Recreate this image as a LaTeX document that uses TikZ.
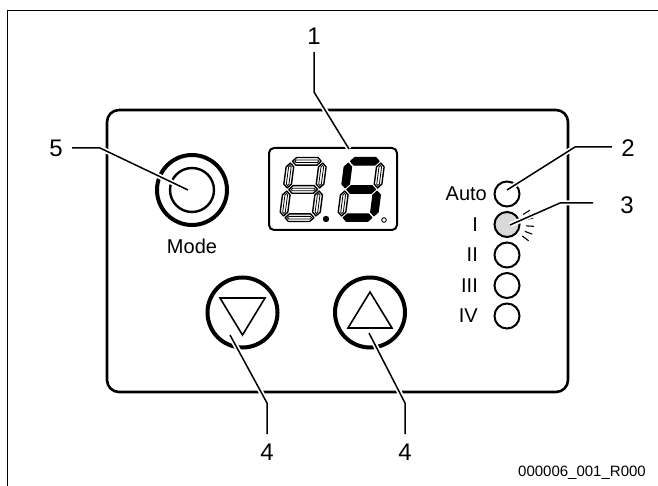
\documentclass[tikz,border=0pt]{standalone}
\usepackage{fontspec}
\setmainfont{Liberation Sans}
\newcommand\hsegpath[4]{(#1,#3) -- (#1+#4,#3+#4) -- (#2-#4,#3+#4) -- (#2,#3) -- (#2-#4,#3-#4) -- (#1+#4,#3-#4) -- cycle}
\newcommand\vsegpath[4]{(#1,#2) -- (#1+#4,#2+#4) -- (#1+#4,#3-#4) -- (#1,#3) -- (#1-#4,#3-#4) -- (#1-#4,#2+#4) -- cycle}
\newcommand\hon[3]{\filldraw[segon] \hsegpath{#1}{#2}{#3}{3.8};}
\newcommand\von[3]{\filldraw[segon] \vsegpath{#1}{#2}{#3}{3.8};}
\newcommand\hoff[3]{\filldraw[segoff] \hsegpath{#1}{#2}{#3}{3.8}; \draw[line width=0.8pt] \hsegpath{#1+2.4}{#2-2.4}{#3}{1.3};}
\newcommand\voff[3]{\filldraw[segoff] \vsegpath{#1}{#2}{#3}{3.8}; \draw[line width=0.8pt] \vsegpath{#1}{#2+2.4}{#3-2.4}{1.3};}
\begin{document}
\begin{tikzpicture}[x=1pt,y=-1pt,
  lbl/.style={font=\fontsize{24}{28}\selectfont, inner sep=0pt},
  small/.style={font=\fontsize{20}{24}\selectfont, inner sep=0pt},
  leader/.style={line width=1.5pt, preaction={draw=white, line width=5pt}},
  bigbtn/.style={circle, draw, line width=4pt, minimum size=70pt, inner sep=0pt},
  led/.style={circle, draw, line width=2pt, minimum size=25pt, inner sep=0pt},
  segon/.style={fill=black, draw=black, line width=1pt, line join=round},
  segoff/.style={fill=white, draw=black, line width=1.4pt, line join=round},
  ray/.style={line width=1.1pt}
]
\useasboundingbox (0,0) rectangle (658,486);
% outer frame
\draw[line width=1.5pt] (658,10.5) -- (7.5,10.5) -- (7.5,486);
% panel
\draw[line width=2.6pt, rounded corners=12pt] (107,110) rectangle (568,392);
% display
\node[draw, line width=2pt, rounded corners=5pt, minimum width=128pt, minimum height=82pt, inner sep=0pt] (disp) at (333,189) {};
% digit 1 (all unlit)
\begin{scope}[shift={(279,221.5)}, y=1pt, xslant=0.13]
  \hoff{5.6}{34.4}{3.8}
  \hoff{5.6}{34.4}{32}
  \hoff{5.6}{34.4}{60.2}
  \voff{3.8}{5.6}{30.4}
  \voff{3.8}{33.6}{58.4}
  \voff{36.2}{5.6}{30.4}
  \voff{36.2}{33.6}{58.4}
\end{scope}
% digit 2 (shows 5)
\begin{scope}[shift={(337,221.5)}, y=1pt, xslant=0.13]
  \hon{5.6}{34.4}{3.8}
  \hon{5.6}{34.4}{32}
  \hon{5.6}{34.4}{60.2}
  \voff{3.8}{5.6}{30.4}
  \von{3.8}{33.6}{58.4}
  \von{36.2}{5.6}{30.4}
  \voff{36.2}{33.6}{58.4}
\end{scope}
\fill (326,219) circle[radius=3.2pt];
\draw[line width=0.9pt] (384,220) circle[radius=2.3pt];
% mode button
\node[bigbtn] (mode) at (192,190) {};
\node[circle, draw, line width=2.4pt, minimum size=44pt, inner sep=0pt] (modein) at (192,190) {};
\node[small] (modelbl) at (192,246) {Mode};
% arrow buttons
\node[bigbtn] (down) at (242.5,312.5) {};
\node[bigbtn] (up) at (370,312.5) {};
\draw[line width=1.6pt] (220,298) -- (265,298) -- (242.5,335) -- cycle;
\draw[line width=1.6pt] (370,292) -- (392,328) -- (348,328) -- cycle;
% LEDs
\node[led] (ledauto) at (507,194) {};
\node[led, fill=gray!30] (led1) at (507,224.5) {};
\node[led] (led2) at (507,255) {};
\node[led] (led3) at (507,285.5) {};
\node[led] (led4) at (507,316) {};
\node[small, anchor=east] (tauto) at (487,194) {Auto};
\node[small, anchor=east] (t1) at (478,224.5) {I};
\node[small, anchor=east] (t2) at (478,255) {II};
\node[small, anchor=east] (t3) at (478,285.5) {III};
\node[small, anchor=east] (t4) at (478,316) {IV};
\foreach \a in {32,14,-4,-21,-37}
  \draw[ray] ([shift={(\a:19pt)}]led1.center) -- ([shift={(\a:27pt)}]led1.center);
% footer
\node[font=\fontsize{15}{18}\selectfont, anchor=east, inner sep=0pt] (code) at (646,473) {000006\_001\_R000};
% labels and leaders
\node[lbl] (n1) at (314,36) {1};
\node[lbl] (n2) at (628,148) {2};
\node[lbl] (n3) at (627,205) {3};
\node[lbl] (n4a) at (267,452) {4};
\node[lbl] (n4b) at (405,452) {4};
\node[lbl] (n5) at (56,148) {5};
\coordinate (e1) at (349,149);
\coordinate (e2) at (507,190);
\coordinate (e3) at (510,225);
\coordinate (e4a) at (230,335);
\coordinate (e4b) at (369,333);
\coordinate (e5) at (188,190);
\draw[leader] (314,52) -- (314,92) -- (e1);
\draw[leader] (612,147) -- (575,147) -- (e2);
\draw[leader] (593,203) -- (560,203) -- (e3);
\draw[leader] (267,434) -- (267,403) -- (e4a);
\draw[leader] (405,434) -- (405,403) -- (e4b);
\draw[leader] (72,148) -- (100,148) -- (e5);
\end{tikzpicture}
\end{document}
